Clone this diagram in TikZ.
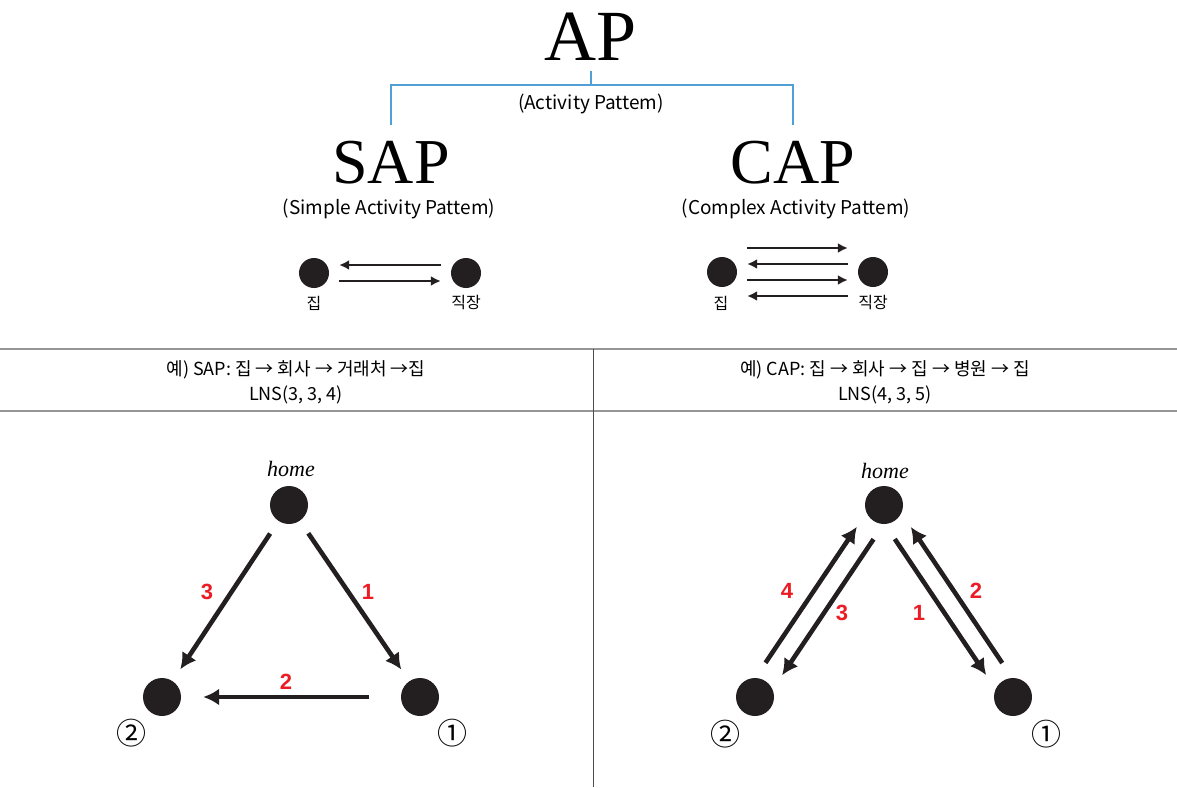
\documentclass[tikz,border=0pt]{standalone}
\usepackage{fontspec}
\setmainfont{Liberation Serif}
\newfontfamily\krfont{Noto Sans CJK KR}
\newfontfamily\numfont{Liberation Sans}
\usetikzlibrary{arrows.meta,positioning,calc}
\definecolor{BracketBlue}{RGB}{80,160,215}
\definecolor{StepRed}{RGB}{236,28,36}
\definecolor{RuleGray}{RGB}{150,150,150}
\definecolor{DotBlack}{RGB}{35,31,32}
\tikzset{
  bigtitle/.style={inner sep=0pt,font=\fontsize{72}{72}\selectfont},
  subtitle/.style={inner sep=0pt,font=\fontsize{64}{64}\selectfont},
  caption/.style={inner sep=0pt,font=\krfont\fontsize{19}{22}\selectfont},
  placename/.style={inner sep=1pt,font=\krfont\fontsize{16}{18}\selectfont},
  tabletext/.style={inner sep=1pt,align=center,font=\krfont\fontsize{18}{25}\selectfont},
  place/.style={circle,fill=DotBlack,inner sep=0pt,minimum size=30pt},
  bigplace/.style={circle,fill=DotBlack,inner sep=0pt,minimum size=38pt},
  bracket/.style={draw=BracketBlue,line width=1.8pt},
  tablerule/.style={draw=RuleGray,line width=2.4pt},
  smallarrow/.style={-{Latex[length=10pt,width=10pt]},line width=2.8pt,
    draw=DotBlack,shorten <=10pt,shorten >=10pt},
  triparrow/.style={-{Latex[length=16pt,width=17pt]},line width=4.6pt,
    draw=DotBlack,shorten <=15pt,shorten >=14pt},
  steplabel/.style={text=StepRed,font=\numfont\bfseries\fontsize{22}{22}\selectfont},
  circnum/.style={font=\krfont\fontsize{30}{30}\selectfont},
  homelabel/.style={font=\itshape\fontsize{22}{22}\selectfont},
}

\begin{document}
\begin{tikzpicture}[x=1pt,y=-1pt]
  \useasboundingbox (0,0) rectangle (1177,787);

  % titles
  \node[bigtitle] (ap) at (591,37) {AP};
  \node[subtitle] (sap) at (391,163) {SAP};
  \node[subtitle] (cap) at (793,163) {CAP};
  \node[caption] (apname) at (591,104) {(Activity Pattem)};
  \node[caption] (sapname) at (389,209) {(Simple Activity Pattem)};
  \node[caption] (capname) at (796,209) {(Complex Activity Pattem)};
  \coordinate (fork) at (591,85);
  \draw[bracket] ([yshift=-10pt]ap.south) -- (fork);
  \draw[bracket] ([yshift=16pt]sap.north) |- (fork) -| ([yshift=16pt]cap.north);

  % simple pattern
  \node[place] (home1) at (314,273) {};
  \node[place] (work1) at (466,273) {};
  \node[placename] (home1name) at (314,303) {집};
  \node[placename] (work1name) at (466,303) {직장};
  \draw[smallarrow] ([yshift=8pt]work1.west) -- ([yshift=8pt]home1.east);
  \draw[smallarrow] ([yshift=-8pt]home1.east) -- ([yshift=-8pt]work1.west);

  % complex pattern
  \node[place] (home2) at (722,272) {};
  \node[place] (work2) at (873,272) {};
  \node[placename] (home2name) at (721,303) {집};
  \node[placename] (work2name) at (873,303) {직장};
  \draw[smallarrow] ([yshift=24pt]home2.east) -- ([yshift=24pt]work2.west);
  \draw[smallarrow] ([yshift=8pt]work2.west) -- ([yshift=8pt]home2.east);
  \draw[smallarrow] ([yshift=-8pt]home2.east) -- ([yshift=-8pt]work2.west);
  \draw[smallarrow] ([yshift=-24pt]work2.west) -- ([yshift=-24pt]home2.east);

  % table
  \coordinate (ruleL) at (0,349);
  \coordinate (ruleR) at (1177,349);
  \draw[tablerule] (ruleL) -- (ruleR);
  \draw[tablerule] ([yshift=-62pt]ruleL) -- ([yshift=-62pt]ruleR);
  \coordinate (colTop) at (593,349);
  \coordinate (colBot) at (593,787);
  \draw[draw=black!70,line width=0.9pt] (colTop) -- (colBot);
  \node[tabletext] (sapex) at (296,382) {예) SAP: 집 → 회사 → 거래처 →집\\LNS(3, 3, 4)};
  \node[tabletext] (capex) at (885,382) {예) CAP: 집 → 회사 → 집 → 병원 → 집\\LNS(4, 3, 5)};

  % SAP trip
  \node[bigplace] (homeL) at (289,505) {};
  \node[bigplace] (twoL) at (162,697) {};
  \node[bigplace] (oneL) at (420,697) {};
  \node[homelabel] (homeLname) at (291,469) {home};
  \node[circnum] (twoLname) at (131,733) {②};
  \node[circnum] (oneLname) at (452,733) {①};
  \draw[triparrow] (homeL) -- (oneL);
  \draw[triparrow,shorten <=32pt,shorten >=22pt] (oneL) -- (twoL);
  \draw[triparrow] (homeL) -- (twoL);
  \node[steplabel] (sapone) at (368,592) {1};
  \node[steplabel] (saptwo) at (286,682) {2};
  \node[steplabel] (sapthree) at (207,592) {3};

  % CAP trip
  \node[bigplace] (homeR) at (884,505) {};
  \node[bigplace] (twoR) at (755,697) {};
  \node[bigplace] (oneR) at (1013,697) {};
  \node[homelabel] (homeRname) at (885,471) {home};
  \node[circnum] (twoRname) at (725,734) {②};
  \node[circnum] (oneRname) at (1046,734) {①};
  \draw[triparrow,transform canvas={shift={(-8.3,5.6)}}] (homeR) -- (oneR);
  \draw[triparrow,transform canvas={shift={(8.3,-5.6)}}] (oneR) -- (homeR);
  \draw[triparrow,transform canvas={shift={(8.6,5.8)}}] (homeR) -- (twoR);
  \draw[triparrow,transform canvas={shift={(-8.6,-5.8)}}] (twoR) -- (homeR);
  \node[steplabel] (capone) at (919,613) {1};
  \node[steplabel] (captwo) at (976,591) {2};
  \node[steplabel] (capthree) at (842,613) {3};
  \node[steplabel] (capfour) at (787,591) {4};
\end{tikzpicture}
\end{document}
